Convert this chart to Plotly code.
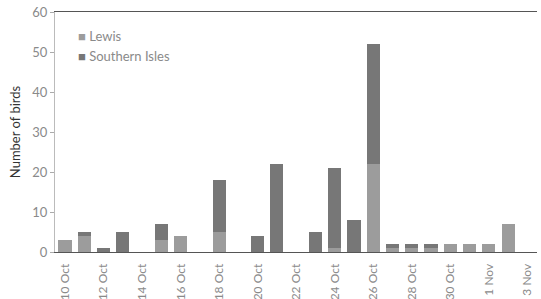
import plotly.graph_objects as go

dates = ["10 Oct", "11 Oct", "12 Oct", "13 Oct", "14 Oct", "15 Oct", "16 Oct", "17 Oct",
         "18 Oct", "19 Oct", "20 Oct", "21 Oct", "22 Oct", "23 Oct", "24 Oct", "25 Oct",
         "26 Oct", "27 Oct", "28 Oct", "29 Oct", "30 Oct", "31 Oct", "1 Nov", "2 Nov", "3 Nov"]
lewis = [3, 4, 0, 0, 0, 3, 4, 0, 5, 0, 0, 0, 0, 0, 1, 0, 22, 1, 1, 1, 2, 2, 2, 7, 0]
southern_isles = [0, 1, 1, 5, 0, 4, 0, 0, 13, 0, 4, 22, 0, 5, 20, 8, 30, 1, 1, 1, 0, 0, 0, 0, 0]
tick_labels = ["10 Oct", "12 Oct", "14 Oct", "16 Oct", "18 Oct", "20 Oct", "22 Oct",
               "24 Oct", "26 Oct", "28 Oct", "30 Oct", "1 Nov", "3 Nov"]
series_names = ["Lewis", "Southern Isles"]
series_colors = ["#9c9c9c", "#777777"]

font_family = "Lato, 'Open Sans', sans-serif"

fig = go.Figure()
for name, vals, col in zip(series_names, [lewis, southern_isles], series_colors):
    fig.add_trace(go.Bar(x=dates, y=vals, name=name, showlegend=False,
                         marker=dict(color=col, line=dict(width=0))))

# compact legend (small square + label)
for i, (name, col) in enumerate(zip(series_names, series_colors)):
    fig.add_annotation(
        xref="paper", yref="paper", x=0.043, y=0.9 - i * 0.085,
        xanchor="left", yanchor="middle", showarrow=False,
        text=f"<span style='color:{col}'>■</span> {name}",
        font=dict(size=13, color="#8a8a8a", family=font_family),
    )

fig.update_layout(
    width=541, height=299,
    barmode="stack", bargap=0.32,
    margin=dict(l=55, r=4, t=12, b=47),
    plot_bgcolor="white", paper_bgcolor="white",
    font=dict(family=font_family, color="#8a8a8a", size=12),
    xaxis=dict(
        type="category", categoryorder="array", categoryarray=dates,
        range=[-0.52, 24.5], automargin=False,
        tickmode="array", tickvals=tick_labels, ticktext=tick_labels,
        tickangle=-90, tickfont=dict(size=12, color="#8a8a8a"),
        ticklabelstandoff=6,
        showline=True, linecolor="#555555", linewidth=1, mirror=True,
        ticks="", showgrid=False, zeroline=False,
    ),
    yaxis=dict(
        range=[0, 60], dtick=10, automargin=False,
        ticks="outside", ticklen=4, tickcolor="#aaaaaa",
        tickfont=dict(size=13, color="#8a8a8a"),
        showline=True, linecolor="#bbbbbb", linewidth=1,
        showgrid=False, zeroline=False,
        title=dict(text="Number of birds", font=dict(size=13, color="#333333"), standoff=8),
    ),
)

fig.write_html("out.html", config={"displayModeBar": False},
               post_script="document.body.style.margin='0';")
